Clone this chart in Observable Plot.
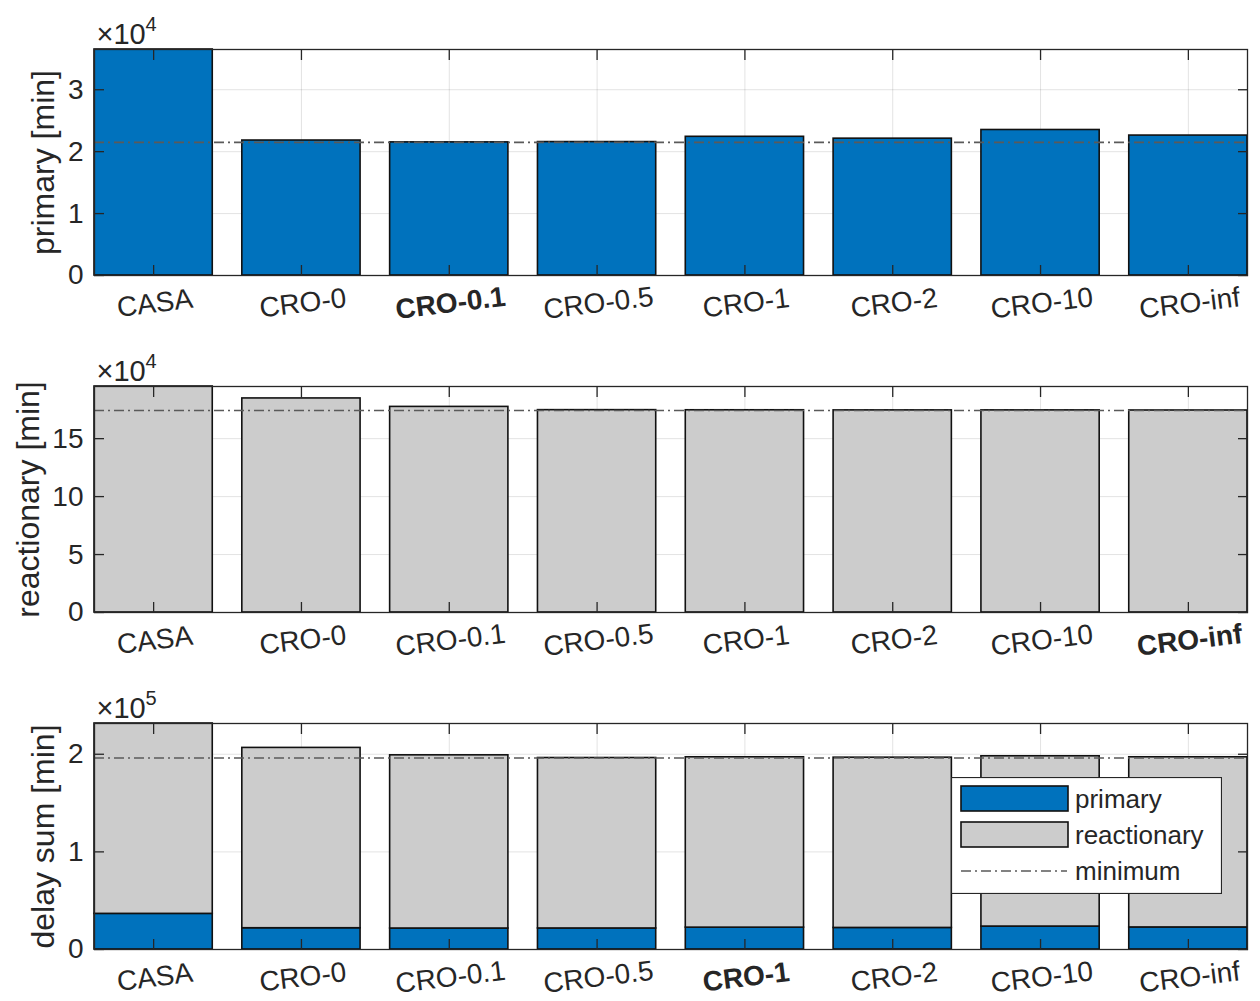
<!DOCTYPE html>
<html><head><meta charset="utf-8">
<script src="https://cdn.jsdelivr.net/npm/d3@7"></script>
<script src="https://cdn.jsdelivr.net/npm/@observablehq/plot@0.6"></script>
<style>
body{margin:0;background:#fff;font-family:"Liberation Sans",Arial,Helvetica,sans-serif}
#wrap{position:relative;width:1260px;height:1001px;overflow:hidden}
#wrap svg{display:block}
#legend{position:absolute;left:951px;top:777px}
</style></head><body><div id="wrap"></div>
<script>
// ---- data ----
const categories = ["CASA","CRO-0","CRO-0.1","CRO-0.5","CRO-1","CRO-2","CRO-10","CRO-inf"];
const primary = [36500, 21800, 21500, 21550, 22400, 22100, 23500, 22600];
const reactionary = [195000, 184700, 177400, 174600, 174500, 174400, 174400, 174300];
const primaryTicks = [0, 10000, 20000, 30000];
const reactionaryTicks = [0, 50000, 100000, 150000];
const sumTicks = [0, 100000, 200000];
const boldLabels = ["CRO-0.1", "CRO-inf", "CRO-1"];
const yLabels = ["primary [min]", "reactionary [min]", "delay sum [min]"];
const exponents = ["4", "4", "5"];
const seriesNames = ["primary", "reactionary", "minimum"];

const BLUE = "#0072BD", GREY = "#CCCCCC", AX = "#262626";
const W = 1260, ML = 94, MR = 13, MT = 49, PH = 226;
const FONT = "'Liberation Sans', Arial, Helvetica, sans-serif";

const sums = primary.map((p, i) => p + reactionary[i]);

function panel({barMarks, ymax, ticks, div, label, labelDx, bold, exp, minValue, marginBottom}) {
  const nonBold = categories.filter(c => c !== bold);
  return Plot.plot({
    width: W, height: MT + PH + marginBottom,
    marginLeft: ML, marginRight: MR, marginTop: MT, marginBottom,
    style: {fontFamily: FONT, fontSize: "28px", color: AX, background: "white", overflow: "visible"},
    x: {domain: categories, paddingInner: 0.2, paddingOuter: 0, round: false, label: null},
    y: {domain: [0, ymax], label: null},
    color: {domain: ["primary", "reactionary"], range: [BLUE, GREY]},
    marks: [
      Plot.gridX(categories, {stroke: AX, strokeOpacity: 0.13, strokeWidth: 1}),
      Plot.gridY(ticks, {stroke: AX, strokeOpacity: 0.13, strokeWidth: 1}),
      ...barMarks,
      Plot.ruleY([minValue], {stroke: "#5a5a5a", strokeWidth: 1.6, strokeDasharray: "10,4,2,4"}),
      Plot.frame({stroke: AX, strokeWidth: 1.3}),
      // inward ticks on all four sides
      Plot.axisX(categories, {anchor: "bottom", tickSize: 10, dy: -10, fill: "none", stroke: AX, strokeWidth: 1.3, label: null}),
      Plot.axisX(categories, {anchor: "top", tickSize: 10, dy: 10, fill: "none", stroke: AX, strokeWidth: 1.3, label: null}),
      Plot.axisY(ticks, {anchor: "left", tickSize: 10, dx: 10, fill: "none", stroke: AX, strokeWidth: 1.3, label: null}),
      Plot.axisY(ticks, {anchor: "right", tickSize: 10, dx: -10, fill: "none", stroke: AX, strokeWidth: 1.3, label: null}),
      // tick labels
      Plot.axisY(ticks, {anchor: "left", tickSize: 0, tickPadding: 11, tickFormat: d => d / div, label: null, fontSize: 28, fill: AX}),
      Plot.axisX(nonBold, {anchor: "bottom", tickSize: 0, tickPadding: 17, tickRotate: -7, label: null, fontSize: 28, fill: AX}),
      Plot.axisX([bold], {anchor: "bottom", tickSize: 0, tickPadding: 17, tickRotate: -7, label: null, fontSize: 28, fill: AX, fontWeight: "bold"}),
      // y title
      Plot.text([label], {frameAnchor: "left", dx: labelDx, rotate: -90, textAnchor: "middle", lineAnchor: "middle", fontSize: 32, fill: AX}),
      // exponent
      Plot.text(["\u00d710"], {frameAnchor: "top-left", dx: 2, dy: -6, textAnchor: "start", lineAnchor: "bottom", fontSize: 29, fill: AX}),
      Plot.text([exp], {frameAnchor: "top-left", dx: 51, dy: -19, textAnchor: "start", lineAnchor: "bottom", fontSize: 20, fill: AX})
    ]
  });
}

const wrap = document.getElementById("wrap");

const rowsP = categories.map((c, i) => ({cat: c, type: "primary", value: primary[i]}));
const rowsR = categories.map((c, i) => ({cat: c, type: "reactionary", value: reactionary[i]}));
const rowsS = categories.flatMap((c, i) => [
  {cat: c, type: "primary", value: primary[i]},
  {cat: c, type: "reactionary", value: reactionary[i]}
]);
const barOpts = {x: "cat", y: "value", fill: "type", stroke: "#111", strokeWidth: 1.6};

wrap.append(panel({
  barMarks: [Plot.barY(rowsP, barOpts)],
  ymax: d3.max(primary), ticks: primaryTicks, div: 1e4,
  label: yLabels[0], labelDx: -51, bold: boldLabels[0], exp: exponents[0],
  minValue: d3.min(primary), marginBottom: 62
}));
wrap.append(panel({
  barMarks: [Plot.barY(rowsR, barOpts)],
  ymax: d3.max(reactionary), ticks: reactionaryTicks, div: 1e4,
  label: yLabels[1], labelDx: -66, bold: boldLabels[1], exp: exponents[1],
  minValue: d3.min(reactionary), marginBottom: 62
}));
wrap.append(panel({
  barMarks: [Plot.barY(rowsS, barOpts)],
  ymax: d3.max(sums), ticks: sumTicks, div: 1e5,
  label: yLabels[2], labelDx: -51, bold: boldLabels[2], exp: exponents[2],
  minValue: d3.min(sums), marginBottom: 52
}));

// legend (inside bottom axes)
const lg = d3.select(wrap).append("svg").attr("id", "legend")
  .attr("width", 271).attr("height", 117)
  .style("font-family", FONT).style("font-size", "26px");
lg.append("rect").attr("x", 0.5).attr("y", 0.5).attr("width", 270).attr("height", 116)
  .attr("fill", "white").attr("stroke", AX).attr("stroke-width", 1.2);
const swatches = [{name: seriesNames[0], fill: BLUE}, {name: seriesNames[1], fill: GREY}];
swatches.forEach((s, i) => {
  const y0 = 9 + i * 36;
  lg.append("rect").attr("x", 10).attr("y", y0).attr("width", 107).attr("height", 25)
    .attr("fill", s.fill).attr("stroke", "#111").attr("stroke-width", 1.6);
  lg.append("text").attr("x", 124).attr("y", y0 + 12.5).attr("dy", "0.35em").attr("fill", AX).text(s.name);
});
lg.append("line").attr("x1", 10).attr("x2", 116).attr("y1", 94).attr("y2", 94)
  .attr("stroke", "#5a5a5a").attr("stroke-width", 1.6).attr("stroke-dasharray", "10,4,2,4");
lg.append("text").attr("x", 124).attr("y", 94).attr("dy", "0.35em").attr("fill", AX).text(seriesNames[2]);
</script></body></html>
